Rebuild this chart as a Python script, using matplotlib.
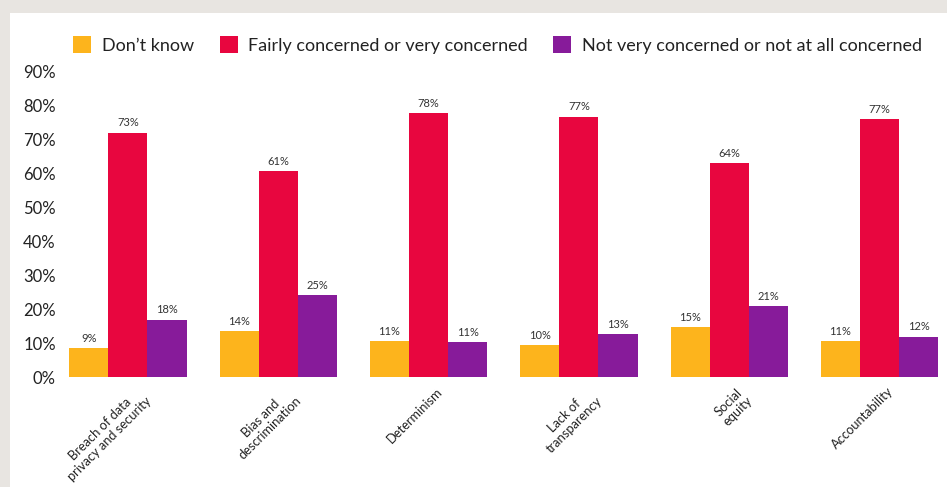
import matplotlib
matplotlib.use("Agg")
import matplotlib.pyplot as plt
from matplotlib.patches import Rectangle, Patch
import numpy as np

plt.rcParams['font.family'] = ['Lato', 'DejaVu Sans']

categories = ["Breach of data\nprivacy and security", "Bias and\ndescrimination", "Determinism",
              "Lack of\ntransparency", "Social\nequity", "Accountability"]
series_names = ["Don\u2019t know", "Fairly concerned or very concerned",
                "Not very concerned or not at all concerned"]
dont_know = [8.5, 13.5, 10.6, 9.4, 14.7, 10.6]
concerned = [71.8, 60.6, 77.6, 76.5, 62.9, 75.9]
not_concerned = [16.8, 24.1, 10.3, 12.6, 20.9, 11.8]
dont_know_labels = ["9%", "14%", "11%", "10%", "15%", "11%"]
concerned_labels = ["73%", "61%", "78%", "77%", "64%", "77%"]
not_concerned_labels = ["18%", "25%", "11%", "13%", "21%", "12%"]
yticks = [0, 10, 20, 30, 40, 50, 60, 70, 80, 90]
colors = ["#FDB41C", "#E8063F", "#871B9A"]

W, H = 947, 487
fig = plt.figure(figsize=(W / 100, H / 100), dpi=100)
fig.patch.set_facecolor("#E8E5E1")
fig.patches.append(Rectangle((10 / W, 0), 1 - 10 / W, (H - 13) / H, transform=fig.transFigure,
                             facecolor="white", edgecolor="none", zorder=-5))

ax = fig.add_axes([60 / W, (H - 377) / H, 1 - 60 / W, (377 - 71) / H])
ax.set_facecolor("none")
ax.set_zorder(2)

x = np.arange(len(categories))
bw = 0.26
series = [dont_know, concerned, not_concerned]
labels = [dont_know_labels, concerned_labels, not_concerned_labels]
for k, (vals, labs) in enumerate(zip(series, labels)):
    pos = x + (k - 1) * bw
    ax.bar(pos, vals, width=bw, color=colors[k], edgecolor="none")
    for p, v, l in zip(pos, vals, labs):
        ax.text(p, v + 1.3, l, ha="center", va="bottom", fontsize=8, color="#333333")

ax.set_xlim(-0.452, 5.449)
ax.set_ylim(0, 90)
ax.set_yticks(yticks)
ax.set_yticklabels([f"{t}%" for t in yticks], fontsize=12, color="#222222")
ax.tick_params(axis="y", length=0, pad=3)
ax.set_xticks(x + 0.05)
ax.set_xticklabels(categories, rotation=45, ha="right", rotation_mode="anchor",
                   fontsize=9.3, color="#222222", multialignment="center", linespacing=1.15)
ax.tick_params(axis="x", length=0, pad=6)
for s in ax.spines.values():
    s.set_visible(False)

handles = [Patch(facecolor=c, edgecolor="none") for c in colors]
leg = fig.legend(handles, series_names, loc="center left", bbox_to_anchor=(57 / W, (H - 45) / H),
                 ncol=3, frameon=False, fontsize=13, handlelength=1.0, handleheight=1.0,
                 handletextpad=0.6, columnspacing=1.4, labelcolor="#222222")
leg.set_zorder(3)

fig.savefig("out.png", dpi=100)
